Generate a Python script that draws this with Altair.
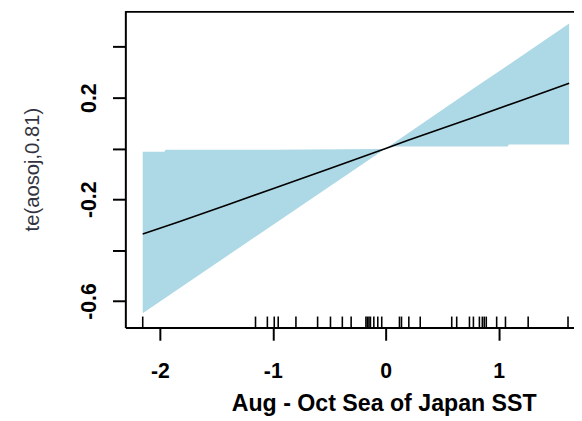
import altair as alt
import pandas as pd

# fitted smooth
line_x = [-2.152, -1.843, -1.406, -1.0, -0.5, 0.0, 0.192, 0.777, 1.2, 1.625]
line_y = [-0.336, -0.290, -0.222, -0.158, -0.080, 0.0, 0.031, 0.122, 0.189, 0.257]

# confidence band
band_x = [-2.152, -1.96, -1.95, -1.0, -0.02, 0.0, 0.04, 0.777, 1.08, 1.09, 1.625]
band_lo = [-0.648, -0.590, -0.587, -0.301, -0.006, 0.0, 0.008, 0.008, 0.008, 0.016, 0.016]
band_hi = [-0.013, -0.013, -0.005, -0.005, -0.002, 0.0, 0.012, 0.236, 0.327, 0.330, 0.492]

# rug of observations
rug_x = [-2.152, -1.153, -1.048, -0.987, -0.952, -0.795, -0.603, -0.489, -0.384,
         -0.306, -0.175, -0.162, -0.148, -0.135, -0.105, -0.070, -0.035, 0.122,
         0.140, 0.205, 0.306, 0.585, 0.629, 0.742, 0.777, 0.830, 0.856, 0.873,
         0.891, 0.983, 1.061, 1.262, 1.615]

x_ticks = [-2, -1, 0, 1]
y_ticks = [-0.6, -0.4, -0.2, 0.0, 0.2, 0.4]

line_df = pd.DataFrame({"x": line_x, "y": line_y})
band_df = pd.DataFrame({"x": band_x, "lo": band_lo, "hi": band_hi})
rug_df = pd.DataFrame({"x": rug_x})

W, H = 455, 321
xs = alt.Scale(domain=[-2.306, 1.668], nice=False, zero=False)
ys = alt.Scale(domain=[-0.704, 0.5415], nice=False, zero=False)

x_axis = alt.Axis(
    values=x_ticks, grid=False, domainColor="black", domainWidth=2,
    tickColor="black", tickWidth=2, tickSize=13,
    labelExpr="datum.value < 0 ? '-' + abs(datum.value) : '' + datum.value",
    labelFont="Liberation Sans", labelFontWeight="bold", labelFontSize=21.5,
    labelColor="black", labelPadding=21, labelBaseline="top", labelAlign="center",
    title="Aug - Oct Sea of Japan SST", titleFont="Liberation Sans",
    titleFontWeight="bold", titleFontSize=23.5, titleColor="black",
    titleX=262, titleY=84, titleBaseline="alphabetic", titleAlign="center",
)
y_axis = alt.Axis(
    values=y_ticks, grid=False, domainColor="black", domainWidth=2,
    tickColor="black", tickWidth=2, tickSize=13,
    labelExpr="abs(datum.value*10 - 2) < 0.01 ? '0.2' : (abs(datum.value*10 + 2) < 0.01 ? '-0.2' : (abs(datum.value*10 + 6) < 0.01 ? '-0.6' : ''))",
    labelAngle=-90, labelAlign="center", labelBaseline="alphabetic",
    labelFont="Liberation Sans", labelFontWeight="bold", labelFontSize=21.5,
    labelColor="black", labelPadding=17,
    title="te(aosoj,0.81)", titleFont="Liberation Sans", titleFontWeight="normal",
    titleFontSize=20.5, titleColor="#333340", titleAngle=270,
    titleX=-88, titleY=160.5, titleBaseline="alphabetic", titleAlign="center",
)

band = alt.Chart(band_df).mark_area(color="#ADD8E6", opacity=1).encode(
    x=alt.X("x:Q", scale=xs, axis=x_axis),
    y=alt.Y("lo:Q", scale=ys, axis=y_axis),
    y2="hi:Q",
)
line = alt.Chart(line_df).mark_line(color="black", strokeWidth=1.6).encode(
    x=alt.X("x:Q", scale=xs),
    y=alt.Y("y:Q", scale=ys),
)
rug = alt.Chart(rug_df).mark_rule(color="black", strokeWidth=1.6).encode(
    x=alt.X("x:Q", scale=xs),
    y=alt.value(H - 11),
    y2=alt.value(H),
)
frame = alt.Chart(pd.DataFrame({"a": [0]})).mark_rule(color="black", strokeWidth=2).encode(
    x=alt.value(0), x2=alt.value(W), y=alt.value(1)
)

chart = alt.layer(band, line, rug, frame).properties(
    width=W, height=H,
    autosize=alt.AutoSizeParams(type="none"),
    padding={"left": 119, "top": 0, "right": 0, "bottom": 92},
).configure_view(stroke=None).configure(background="white")

chart.save("out.html", embed_options={"renderer": "svg", "actions": False})
